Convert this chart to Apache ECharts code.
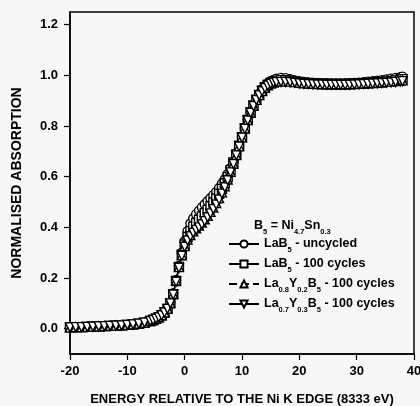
<!DOCTYPE html>
<html>
<head>
<meta charset="utf-8">
<script src="https://cdn.jsdelivr.net/npm/echarts@6/dist/echarts.min.js"></script>
<style>
  html, body { margin: 0; padding: 0; background: #f7f7f7; }
  #chart { width: 420px; height: 406px; }
</style>
</head>
<body>
<div id="chart"></div>
<script>
// energy relative to the Ni K edge (eV)
const energy = [
  -20, -19, -18, -17, -16, -15, -14, -13, -12, -11, -10, -9, -8, -7, -6,
  -5.5, -5, -4.5, -4, -3.5, -3, -2.5, -2, -1.5, -1, -0.5, 0, 0.5, 1, 1.5,
  2, 2.5, 3, 3.5, 4, 4.5, 5, 5.5, 6, 6.5, 7, 7.5, 8, 8.5, 9, 9.5,
  10, 10.5, 11, 11.5, 12, 12.5, 13, 13.5, 14, 14.5, 15, 15.5, 16,
  16.8, 17.6, 18.4, 19.2, 20, 20.8, 21.6, 22.4, 23.2, 24, 24.8, 25.6, 26.4,
  27.2, 28, 28.8, 29.6, 30.4, 31.2, 32, 32.8, 33.6, 34.4, 35.2, 36, 36.8, 37.6, 38
];

// LaB5 - uncycled
const lab5Uncycled = [
  0.005, 0.006, 0.006, 0.007, 0.008, 0.009, 0.010, 0.011, 0.012, 0.013, 0.015, 0.017, 0.020, 0.024, 0.030,
  0.035, 0.040, 0.046, 0.054, 0.065, 0.080, 0.103, 0.140, 0.192, 0.248, 0.300, 0.345, 0.385, 0.415, 0.435,
  0.452, 0.466, 0.479, 0.491, 0.503, 0.515, 0.527, 0.540, 0.555, 0.572, 0.590, 0.610, 0.634, 0.660, 0.690, 0.722,
  0.757, 0.792, 0.825, 0.855, 0.882, 0.906, 0.926, 0.943, 0.957, 0.968, 0.976, 0.982, 0.987,
  0.990, 0.989, 0.985, 0.980, 0.976, 0.973, 0.971, 0.970, 0.969, 0.968, 0.968, 0.968, 0.968,
  0.968, 0.968, 0.969, 0.970, 0.971, 0.973, 0.975, 0.977, 0.979, 0.981, 0.984, 0.987, 0.990, 0.993, 0.995
];

// LaB5 - 100 cycles
const lab5Cycled = [
  0.005, 0.006, 0.006, 0.007, 0.008, 0.009, 0.010, 0.011, 0.012, 0.013, 0.015, 0.017, 0.020, 0.024, 0.030,
  0.034, 0.039, 0.045, 0.053, 0.064, 0.078, 0.100, 0.136, 0.188, 0.244, 0.292, 0.332, 0.362, 0.385, 0.402,
  0.417, 0.430, 0.443, 0.456, 0.469, 0.483, 0.498, 0.514, 0.532, 0.552, 0.574, 0.598, 0.626, 0.656, 0.688, 0.722,
  0.756, 0.791, 0.824, 0.854, 0.881, 0.904, 0.923, 0.940, 0.953, 0.963, 0.971, 0.976, 0.979,
  0.981, 0.981, 0.979, 0.976, 0.974, 0.972, 0.970, 0.969, 0.968, 0.967, 0.967, 0.966, 0.966,
  0.966, 0.966, 0.967, 0.967, 0.968, 0.969, 0.970, 0.971, 0.973, 0.974, 0.976, 0.978, 0.980, 0.983, 0.985
];

// La0.8Y0.2B5 - 100 cycles
const la08y02Cycled = [
  0.005, 0.006, 0.006, 0.007, 0.008, 0.009, 0.010, 0.011, 0.012, 0.013, 0.015, 0.017, 0.020, 0.024, 0.030,
  0.034, 0.039, 0.045, 0.053, 0.064, 0.079, 0.102, 0.138, 0.190, 0.243, 0.290, 0.326, 0.352, 0.370, 0.384,
  0.396, 0.407, 0.419, 0.432, 0.446, 0.461, 0.478, 0.496, 0.516, 0.538, 0.562, 0.589, 0.619, 0.651, 0.685, 0.720,
  0.755, 0.790, 0.823, 0.853, 0.880, 0.903, 0.922, 0.938, 0.951, 0.961, 0.968, 0.972, 0.975,
  0.976, 0.976, 0.975, 0.973, 0.971, 0.969, 0.968, 0.967, 0.966, 0.965, 0.965, 0.965, 0.965,
  0.965, 0.965, 0.965, 0.966, 0.967, 0.968, 0.969, 0.970, 0.971, 0.972, 0.974, 0.975, 0.977, 0.979, 0.980
];

// La0.7Y0.3B5 - 100 cycles
const la07y03Cycled = [
  0.005, 0.006, 0.006, 0.007, 0.008, 0.009, 0.010, 0.011, 0.012, 0.013, 0.015, 0.017, 0.020, 0.024, 0.030,
  0.034, 0.039, 0.045, 0.053, 0.064, 0.078, 0.100, 0.135, 0.185, 0.240, 0.288, 0.323, 0.348, 0.365, 0.378,
  0.390, 0.400, 0.412, 0.425, 0.440, 0.455, 0.472, 0.490, 0.510, 0.533, 0.558, 0.586, 0.617, 0.650, 0.684, 0.719,
  0.754, 0.789, 0.822, 0.852, 0.879, 0.902, 0.921, 0.937, 0.950, 0.960, 0.967, 0.971, 0.973,
  0.974, 0.974, 0.973, 0.971, 0.969, 0.967, 0.966, 0.965, 0.964, 0.964, 0.963, 0.963, 0.963,
  0.963, 0.963, 0.963, 0.964, 0.965, 0.966, 0.967, 0.968, 0.969, 0.970, 0.971, 0.972, 0.974, 0.976, 0.977
];

const seriesNames = [
  'LaB5 - uncycled',
  'LaB5 - 100 cycles',
  'La0.8Y0.2B5 - 100 cycles',
  'La0.7Y0.3B5 - 100 cycles'
];
const seriesValues = [lab5Uncycled, lab5Cycled, la08y02Cycled, la07y03Cycled];
const seriesSymbols = ['circle', 'rect', 'triangle', 'path://M0,0 L10,0 L5,9 Z'];
const seriesDash = ['solid', 'solid', 'dashed', 'solid'];

// legend labels with subscripts as rich text
const legendRich = {
  'LaB5 - uncycled': '{t|LaB}{s|5}{t| - uncycled}',
  'LaB5 - 100 cycles': '{t|LaB}{s|5}{t| - 100 cycles}',
  'La0.8Y0.2B5 - 100 cycles': '{t|La}{s|0.8}{t|Y}{s|0.2}{t|B}{s|5}{t| - 100 cycles}',
  'La0.7Y0.3B5 - 100 cycles': '{t|La}{s|0.7}{t|Y}{s|0.3}{t|B}{s|5}{t| - 100 cycles}'
};

const yTicks = [0, 0.2, 0.4, 0.6, 0.8, 1.0, 1.2];
const FONT = 'Liberation Sans';

const richStyle = {
  t: { fontFamily: FONT, fontWeight: 'bold', fontSize: 12.5, color: '#000', lineHeight: 14, verticalAlign: 'top' },
  s: { fontFamily: FONT, fontWeight: 'bold', fontSize: 7.5, color: '#000', lineHeight: 7, padding: [9, 0, 0, 0], verticalAlign: 'top' }
};

const chart = echarts.init(document.getElementById('chart'));

const option = {
  backgroundColor: '#f7f7f7',
  animation: false,
  grid: {
    left: 70, right: 6, top: 12, bottom: 52,
    outerBoundsMode: 'none',
    show: true, borderColor: '#000', borderWidth: 1.5, backgroundColor: 'transparent'
  },
  title: {
    text: '{t|B}{s|5}{t| = Ni}{s|4.7}{t|Sn}{s|0.3}',
    left: 254, top: 219, padding: 0,
    textStyle: { rich: richStyle }
  },
  legend: {
    orient: 'vertical',
    left: 228, top: 237,
    itemWidth: 30, itemHeight: 9, itemGap: 3,
    padding: 0,
    data: seriesNames,
    formatter: name => legendRich[name],
    textStyle: { rich: richStyle }
  },
  xAxis: {
    type: 'value',
    min: -20, max: 40, interval: 10,
    name: 'ENERGY RELATIVE TO THE Ni K EDGE (8333 eV)',
    nameLocation: 'middle', nameGap: 39,
    nameTextStyle: { fontFamily: FONT, fontWeight: 'bold', fontSize: 13, color: '#000' },
    axisLine: { onZero: false, lineStyle: { color: '#000', width: 1.5 } },
    axisTick: { inside: false, length: 6, lineStyle: { color: '#000', width: 1.2 } },
    axisLabel: { fontFamily: FONT, fontWeight: 'bold', fontSize: 13, color: '#000', margin: 11 },
    splitLine: { show: false }
  },
  yAxis: {
    type: 'value',
    min: -0.1, max: 1.25,
    name: 'NORMALISED ABSORPTION',
    nameLocation: 'middle', nameGap: 46, nameRotate: 90,
    nameTextStyle: { fontFamily: FONT, fontWeight: 'bold', fontSize: 14, color: '#000' },
    axisLine: { onZero: false, lineStyle: { color: '#000', width: 1.5 } },
    axisTick: { inside: false, length: 6, customValues: yTicks, lineStyle: { color: '#000', width: 1.2 } },
    axisLabel: {
      fontFamily: FONT, fontWeight: 'bold', fontSize: 13, color: '#000', margin: 12,
      customValues: yTicks,
      formatter: v => v.toFixed(1)
    },
    splitLine: { show: false }
  },
  series: seriesNames.map((name, i) => ({
    name: name,
    type: 'line',
    data: energy.map((e, j) => [e, seriesValues[i][j]]),
    symbol: seriesSymbols[i],
    symbolSize: 9,
    showAllSymbol: true,
    lineStyle: { color: '#000', width: 1.2, type: seriesDash[i] },
    itemStyle: { color: '#fff', borderColor: '#000', borderWidth: 1.4 }
  }))
};

chart.setOption(option);
</script>
</body>
</html>
